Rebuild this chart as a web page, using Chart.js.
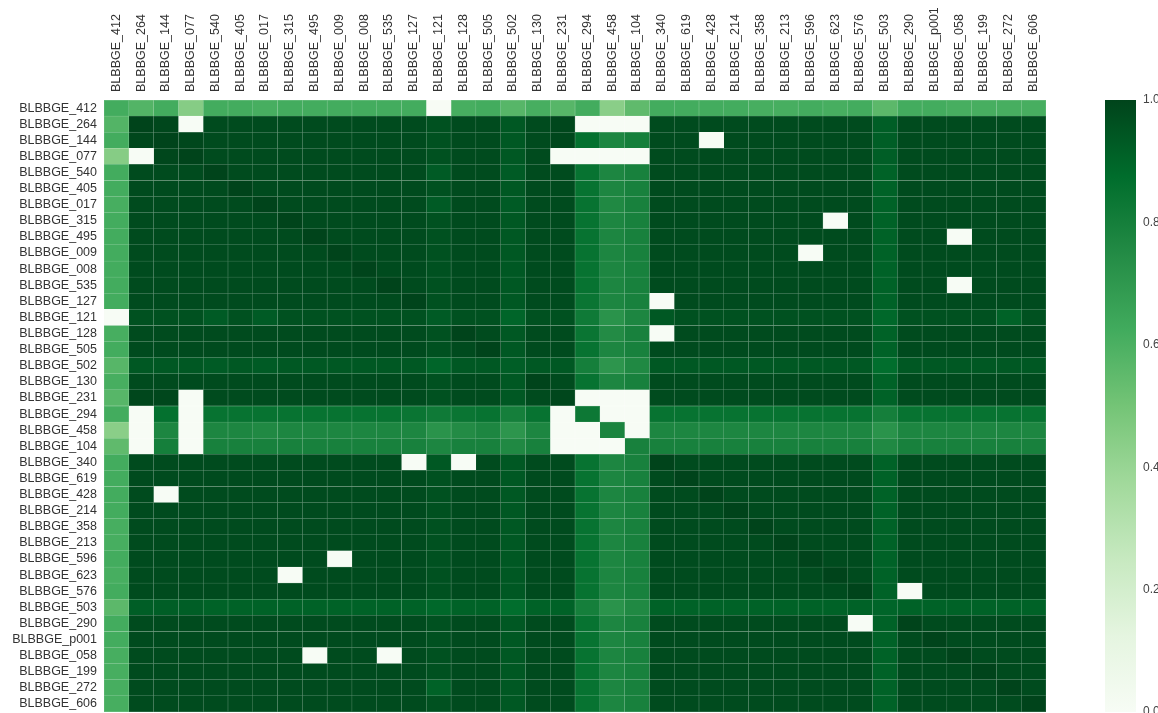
<!DOCTYPE html>
<html>
<head>
<meta charset="utf-8">
<script src="https://cdn.jsdelivr.net/npm/chart.js@4.4.1/dist/chart.umd.min.js"></script>
<style>
  html, body { margin: 0; padding: 0; background: #ffffff; }
  #wrap { width: 1158px; height: 713px; }
</style>
</head>
<body>
<div id="wrap"><canvas id="heat" width="1158" height="713"></canvas></div>
<script>
// Sample identifiers (rows top to bottom, columns left to right)
const samples = [
  'BLBBGE_412','BLBBGE_264','BLBBGE_144','BLBBGE_077','BLBBGE_540','BLBBGE_405','BLBBGE_017',
  'BLBBGE_315','BLBBGE_495','BLBBGE_009','BLBBGE_008','BLBBGE_535','BLBBGE_127','BLBBGE_121',
  'BLBBGE_128','BLBBGE_505','BLBBGE_502','BLBBGE_130','BLBBGE_231','BLBBGE_294','BLBBGE_458',
  'BLBBGE_104','BLBBGE_340','BLBBGE_619','BLBBGE_428','BLBBGE_214','BLBBGE_358','BLBBGE_213',
  'BLBBGE_596','BLBBGE_623','BLBBGE_576','BLBBGE_503','BLBBGE_290','BLBBGE_p001','BLBBGE_058',
  'BLBBGE_199','BLBBGE_272','BLBBGE_606'
];

// Pairwise similarity, one row per sample
const r412 = [0.62,0.58,0.62,0.45,0.62,0.62,0.61,0.62,0.62,0.62, 0.62,0.62,0.62,0.00,0.61,0.62,0.57,0.61,0.57,0.62, 0.44,0.55,0.62,0.62,0.62,0.62,0.61,0.61,0.62,0.61, 0.62,0.56,0.62,0.62,0.61,0.61,0.61,0.61];
const r264 = [0.58,1.00,0.99,0.00,0.98,0.98,0.98,0.98,0.98,0.98, 0.98,0.98,0.98,0.96,0.98,0.98,0.94,0.98,0.99,0.00, 0.00,0.00,0.98,0.98,0.98,0.98,0.98,0.98,0.98,0.98, 0.98,0.92,0.98,0.98,0.98,0.98,0.98,0.98];
const r144 = [0.62,0.99,1.00,0.99,0.98,0.98,0.98,0.98,0.98,0.98, 0.98,0.98,0.98,0.96,0.98,0.98,0.94,0.98,0.99,0.86, 0.77,0.80,0.98,0.98,0.00,0.98,0.98,0.98,0.98,0.98, 0.98,0.92,0.98,0.98,0.98,0.98,0.98,0.98];
const r077 = [0.45,0.00,0.99,1.00,0.98,0.98,0.98,0.98,0.98,0.98, 0.98,0.98,0.98,0.96,0.98,0.98,0.94,0.98,0.00,0.00, 0.00,0.00,0.98,0.98,0.98,0.98,0.98,0.98,0.98,0.98, 0.98,0.92,0.98,0.98,0.98,0.98,0.98,0.98];
const r540 = [0.62,0.98,0.98,0.98,1.00,0.98,0.98,0.98,0.98,0.98, 0.98,0.98,0.98,0.93,0.98,0.98,0.93,0.98,0.98,0.85, 0.77,0.79,0.98,0.98,0.98,0.98,0.98,0.98,0.98,0.98, 0.98,0.91,0.98,0.98,0.98,0.98,0.98,0.98];
const r405 = [0.62,0.98,0.98,0.98,0.98,1.00,0.98,0.98,0.98,0.98, 0.98,0.98,0.98,0.96,0.98,0.98,0.94,0.98,0.98,0.85, 0.77,0.79,0.98,0.98,0.98,0.98,0.98,0.98,0.98,0.98, 0.98,0.91,0.98,0.98,0.98,0.98,0.98,0.98];
const r017 = [0.61,0.98,0.98,0.98,0.98,0.98,1.00,0.98,0.98,0.98, 0.98,0.98,0.98,0.93,0.98,0.98,0.93,0.98,0.98,0.85, 0.76,0.79,0.98,0.98,0.98,0.98,0.98,0.98,0.98,0.98, 0.98,0.91,0.98,0.98,0.98,0.98,0.98,0.98];
const r315 = [0.62,0.98,0.98,0.98,0.98,0.98,0.98,1.00,0.98,0.98, 0.98,0.98,0.98,0.96,0.98,0.98,0.94,0.98,0.98,0.85, 0.77,0.79,0.98,0.98,0.98,0.98,0.98,0.98,0.98,0.00, 0.98,0.91,0.98,0.98,0.98,0.98,0.98,0.98];
const r495 = [0.62,0.98,0.98,0.98,0.98,0.98,0.98,0.98,1.00,0.98, 0.98,0.98,0.98,0.96,0.98,0.98,0.94,0.98,0.98,0.85, 0.77,0.79,0.98,0.98,0.98,0.98,0.98,0.98,0.98,0.98, 0.98,0.91,0.98,0.98,0.00,0.98,0.98,0.98];
const r009 = [0.62,0.98,0.98,0.98,0.98,0.98,0.98,0.98,0.98,1.00, 0.98,0.98,0.98,0.96,0.98,0.98,0.94,0.98,0.98,0.85, 0.77,0.79,0.98,0.98,0.98,0.98,0.98,0.98,0.00,0.98, 0.98,0.91,0.98,0.98,0.98,0.98,0.98,0.98];
const r008 = [0.62,0.98,0.98,0.98,0.98,0.98,0.98,0.98,0.98,0.98, 1.00,0.98,0.98,0.96,0.98,0.98,0.94,0.98,0.98,0.85, 0.77,0.79,0.98,0.98,0.98,0.98,0.98,0.98,0.98,0.98, 0.98,0.91,0.98,0.98,0.98,0.98,0.98,0.98];
const r535 = [0.62,0.98,0.98,0.98,0.98,0.98,0.98,0.98,0.98,0.98, 0.98,1.00,0.98,0.96,0.98,0.98,0.94,0.98,0.98,0.85, 0.77,0.79,0.98,0.98,0.98,0.98,0.98,0.98,0.98,0.98, 0.98,0.91,0.98,0.98,0.00,0.98,0.98,0.98];
const r127 = [0.62,0.98,0.98,0.98,0.98,0.98,0.98,0.98,0.98,0.98, 0.98,0.98,1.00,0.96,0.98,0.98,0.94,0.98,0.98,0.84, 0.77,0.79,0.00,0.98,0.98,0.98,0.98,0.98,0.98,0.98, 0.98,0.91,0.98,0.98,0.98,0.98,0.98,0.98];
const r121 = [0.00,0.96,0.96,0.96,0.93,0.96,0.93,0.96,0.96,0.96, 0.96,0.96,0.96,0.93,0.96,0.96,0.90,0.96,0.96,0.82, 0.72,0.77,0.94,0.96,0.96,0.96,0.96,0.96,0.96,0.96, 0.96,0.89,0.96,0.96,0.96,0.96,0.91,0.96];
const r128 = [0.61,0.98,0.98,0.98,0.98,0.98,0.98,0.98,0.98,0.98, 0.98,0.98,0.98,0.96,1.00,0.98,0.94,0.98,0.98,0.84, 0.75,0.79,0.00,0.98,0.98,0.98,0.98,0.98,0.98,0.98, 0.98,0.91,0.98,0.98,0.98,0.98,0.98,0.98];
const r505 = [0.62,0.98,0.98,0.98,0.98,0.98,0.98,0.98,0.98,0.98, 0.98,0.98,0.98,0.96,0.98,1.00,0.94,0.98,0.98,0.85, 0.77,0.79,0.98,0.98,0.98,0.98,0.98,0.98,0.98,0.98, 0.98,0.91,0.98,0.98,0.98,0.98,0.98,0.98];
const r502 = [0.57,0.94,0.94,0.94,0.93,0.94,0.93,0.94,0.94,0.94, 0.94,0.94,0.94,0.90,0.94,0.94,0.92,0.94,0.94,0.80, 0.71,0.76,0.94,0.94,0.94,0.94,0.94,0.94,0.94,0.94, 0.94,0.87,0.94,0.94,0.94,0.94,0.94,0.94];
const r130 = [0.61,0.98,0.98,0.98,0.98,0.98,0.98,0.98,0.98,0.98, 0.98,0.98,0.98,0.96,0.98,0.98,0.94,1.00,0.98,0.85, 0.77,0.79,0.98,0.98,0.98,0.98,0.98,0.98,0.98,0.98, 0.98,0.91,0.98,0.98,0.98,0.98,0.98,0.98];
const r231 = [0.57,0.99,0.99,0.00,0.98,0.98,0.98,0.98,0.98,0.98, 0.98,0.98,0.98,0.96,0.98,0.98,0.94,0.98,0.99,0.00, 0.00,0.00,0.98,0.98,0.98,0.98,0.98,0.98,0.98,0.98, 0.98,0.91,0.98,0.98,0.98,0.98,0.98,0.98];
const r294 = [0.62,0.00,0.86,0.00,0.85,0.85,0.85,0.85,0.85,0.85, 0.85,0.85,0.84,0.82,0.84,0.85,0.80,0.85,0.00,0.83, 0.00,0.00,0.85,0.85,0.85,0.85,0.85,0.85,0.85,0.85, 0.85,0.80,0.85,0.85,0.85,0.85,0.85,0.85];
const r458 = [0.44,0.00,0.77,0.00,0.77,0.77,0.76,0.77,0.77,0.77, 0.77,0.77,0.77,0.72,0.75,0.77,0.71,0.77,0.00,0.00, 0.78,0.00,0.77,0.77,0.77,0.77,0.77,0.77,0.77,0.77, 0.77,0.72,0.77,0.77,0.77,0.77,0.77,0.77];
const r104 = [0.55,0.00,0.80,0.00,0.79,0.79,0.79,0.79,0.79,0.79, 0.79,0.79,0.79,0.77,0.79,0.79,0.76,0.79,0.00,0.00, 0.00,0.79,0.79,0.79,0.79,0.79,0.79,0.79,0.79,0.79, 0.79,0.76,0.79,0.79,0.79,0.79,0.79,0.79];
const r340 = [0.62,0.98,0.98,0.98,0.98,0.98,0.98,0.98,0.98,0.98, 0.98,0.98,0.00,0.94,0.00,0.98,0.94,0.98,0.98,0.85, 0.77,0.79,1.00,0.98,0.98,0.98,0.98,0.98,0.98,0.98, 0.98,0.91,0.98,0.98,0.98,0.98,0.98,0.98];
const r619 = [0.62,0.98,0.98,0.98,0.98,0.98,0.98,0.98,0.98,0.98, 0.98,0.98,0.98,0.96,0.98,0.98,0.94,0.98,0.98,0.85, 0.77,0.79,0.98,1.00,0.98,0.98,0.98,0.98,0.98,0.98, 0.98,0.91,0.98,0.98,0.98,0.98,0.98,0.98];
const r428 = [0.62,0.98,0.00,0.98,0.98,0.98,0.98,0.98,0.98,0.98, 0.98,0.98,0.98,0.96,0.98,0.98,0.94,0.98,0.98,0.85, 0.77,0.79,0.98,0.98,1.00,0.98,0.98,0.98,0.98,0.98, 0.98,0.91,0.98,0.98,0.98,0.98,0.98,0.98];
const r214 = [0.62,0.98,0.98,0.98,0.98,0.98,0.98,0.98,0.98,0.98, 0.98,0.98,0.98,0.96,0.98,0.98,0.94,0.98,0.98,0.85, 0.77,0.79,0.98,0.98,0.98,1.00,0.98,0.98,0.98,0.98, 0.98,0.91,0.98,0.98,0.98,0.98,0.98,0.98];
const r358 = [0.61,0.98,0.98,0.98,0.98,0.98,0.98,0.98,0.98,0.98, 0.98,0.98,0.98,0.96,0.98,0.98,0.94,0.98,0.98,0.85, 0.77,0.79,0.98,0.98,0.98,0.98,1.00,0.98,0.98,0.98, 0.98,0.91,0.98,0.98,0.98,0.98,0.98,0.98];
const r213 = [0.61,0.98,0.98,0.98,0.98,0.98,0.98,0.98,0.98,0.98, 0.98,0.98,0.98,0.96,0.98,0.98,0.94,0.98,0.98,0.85, 0.77,0.79,0.98,0.98,0.98,0.98,0.98,1.00,0.98,0.98, 0.98,0.91,0.98,0.98,0.98,0.98,0.98,0.98];
const r596 = [0.62,0.98,0.98,0.98,0.98,0.98,0.98,0.98,0.98,0.00, 0.98,0.98,0.98,0.96,0.98,0.98,0.94,0.98,0.98,0.85, 0.77,0.79,0.98,0.98,0.98,0.98,0.98,0.98,1.00,0.98, 0.98,0.91,0.98,0.98,0.98,0.98,0.98,0.98];
const r623 = [0.61,0.98,0.98,0.98,0.98,0.98,0.98,0.00,0.98,0.98, 0.98,0.98,0.98,0.96,0.98,0.98,0.94,0.98,0.98,0.85, 0.77,0.79,0.98,0.98,0.98,0.98,0.98,0.98,0.98,1.00, 0.98,0.91,0.98,0.98,0.98,0.98,0.98,0.98];
const r576 = [0.62,0.98,0.98,0.98,0.98,0.98,0.98,0.98,0.98,0.98, 0.98,0.98,0.98,0.96,0.98,0.98,0.94,0.98,0.98,0.85, 0.77,0.79,0.98,0.98,0.98,0.98,0.98,0.98,0.98,0.98, 1.00,0.91,0.00,0.98,0.98,0.98,0.98,0.98];
const r503 = [0.56,0.92,0.92,0.92,0.91,0.91,0.91,0.91,0.91,0.91, 0.91,0.91,0.91,0.89,0.91,0.91,0.87,0.91,0.91,0.80, 0.72,0.76,0.91,0.91,0.91,0.91,0.91,0.91,0.91,0.91, 0.91,0.90,0.91,0.91,0.91,0.91,0.91,0.91];
const r290 = [0.62,0.98,0.98,0.98,0.98,0.98,0.98,0.98,0.98,0.98, 0.98,0.98,0.98,0.96,0.98,0.98,0.94,0.98,0.98,0.85, 0.77,0.79,0.98,0.98,0.98,0.98,0.98,0.98,0.98,0.98, 0.00,0.91,1.00,0.98,0.98,0.98,0.98,0.98];
const rp001 = [0.62,0.98,0.98,0.98,0.98,0.98,0.98,0.98,0.98,0.98, 0.98,0.98,0.98,0.96,0.98,0.98,0.94,0.98,0.98,0.85, 0.77,0.79,0.98,0.98,0.98,0.98,0.98,0.98,0.98,0.98, 0.98,0.91,0.98,1.00,0.98,0.98,0.98,0.98];
const r058 = [0.61,0.98,0.98,0.98,0.98,0.98,0.98,0.98,0.00,0.98, 0.98,0.00,0.98,0.96,0.98,0.98,0.94,0.98,0.98,0.85, 0.77,0.79,0.98,0.98,0.98,0.98,0.98,0.98,0.98,0.98, 0.98,0.91,0.98,0.98,1.00,0.98,0.98,0.98];
const r199 = [0.61,0.98,0.98,0.98,0.98,0.98,0.98,0.98,0.98,0.98, 0.98,0.98,0.98,0.96,0.98,0.98,0.94,0.98,0.98,0.85, 0.77,0.79,0.98,0.98,0.98,0.98,0.98,0.98,0.98,0.98, 0.98,0.91,0.98,0.98,0.98,1.00,0.98,0.98];
const r272 = [0.61,0.98,0.98,0.98,0.98,0.98,0.98,0.98,0.98,0.98, 0.98,0.98,0.98,0.91,0.98,0.98,0.94,0.98,0.98,0.85, 0.77,0.79,0.98,0.98,0.98,0.98,0.98,0.98,0.98,0.98, 0.98,0.91,0.98,0.98,0.98,0.98,1.00,0.98];
const r606 = [0.61,0.98,0.98,0.98,0.98,0.98,0.98,0.98,0.98,0.98, 0.98,0.98,0.98,0.96,0.98,0.98,0.94,0.98,0.98,0.85, 0.77,0.79,0.98,0.98,0.98,0.98,0.98,0.98,0.98,0.98, 0.98,0.91,0.98,0.98,0.98,0.98,0.98,1.00];

const matrix = [r412, r264, r144, r077, r540, r405, r017, r315, r495, r009, r008, r535, r127,
  r121, r128, r505, r502, r130, r231, r294, r458, r104, r340, r619, r428, r214, r358, r213,
  r596, r623, r576, r503, r290, rp001, r058, r199, r272, r606];

// Colour-bar range and tick labels
const scaleMin = 0.0;
const scaleMax = 1.0;
const colorBarTicks = [0.0, 0.2, 0.4, 0.6, 0.8, 1.0];

// Sequential green palette (light -> dark)
const greenStops = ['#f7fcf5','#e5f5e0','#c7e9c0','#a1d99b','#74c476','#41ab5d','#238b45','#006d2c','#00441b'];

function hexToRgb(h) {
  return [parseInt(h.slice(1, 3), 16), parseInt(h.slice(3, 5), 16), parseInt(h.slice(5, 7), 16)];
}
const stopRgb = greenStops.map(hexToRgb);

function greenRgb(v) {
  const t = Math.max(0, Math.min(1, (v - scaleMin) / (scaleMax - scaleMin)));
  const pos = t * (stopRgb.length - 1);
  const i = Math.min(stopRgb.length - 2, Math.floor(pos));
  const f = pos - i;
  const a = stopRgb[i], b = stopRgb[i + 1];
  return [0, 1, 2].map(k => Math.round(a[k] + (b[k] - a[k]) * f));
}
function rgbStr(c) { return 'rgb(' + c[0] + ',' + c[1] + ',' + c[2] + ')'; }
function lighten(c, w) { return c.map(x => Math.round(x + (255 - x) * w)); }

// One stacked dataset per column; every bar segment is a unit-wide cell
const datasets = samples.map((col, j) => ({
  label: col,
  data: samples.map(() => 1),
  backgroundColor: samples.map((_, i) => rgbStr(greenRgb(matrix[i][j]))),
  borderColor: samples.map((_, i) => rgbStr(lighten(greenRgb(matrix[i][j]), 0.4))),
  borderWidth: 0.5,
  borderSkipped: false,
  barPercentage: 1,
  categoryPercentage: 1,
  stack: 'cells'
}));

const fontFamily = '"Liberation Sans", Arial, sans-serif';
// a very small line height keeps single-line labels centred on their ticks
const labelFont = { family: fontFamily, size: 12.5, lineHeight: 0.01 };

// Gradient legend bar and its labels, placed on the colour-bar scale
const colorBarPlugin = {
  id: 'colorBar',
  afterDraw(chart) {
    const s = chart.scales.cb;
    const ctx = chart.ctx;
    const yTop = s.getPixelForValue(scaleMax);
    const yBot = s.getPixelForValue(scaleMin);
    const x0 = s.left + 59;
    const w = 31;
    const g = ctx.createLinearGradient(0, yBot, 0, yTop);
    greenStops.forEach((c, k) => g.addColorStop(k / (greenStops.length - 1), c));
    ctx.save();
    ctx.fillStyle = g;
    ctx.fillRect(x0, yTop, w, yBot - yTop);
    ctx.fillStyle = '#444444';
    ctx.font = '12px ' + fontFamily;
    ctx.textAlign = 'left';
    ctx.textBaseline = 'middle';
    colorBarTicks.forEach(v => {
      ctx.fillText(v.toFixed(1), s.left + 97, s.getPixelForValue(v));
    });
    ctx.restore();
  }
};

new Chart(document.getElementById('heat'), {
  type: 'bar',
  data: { labels: samples, datasets },
  plugins: [colorBarPlugin],
  options: {
    indexAxis: 'y',
    responsive: false,
    animation: false,
    layout: { padding: { top: 0, left: 0, right: 0, bottom: 1 } },
    plugins: { legend: { display: false }, tooltip: { enabled: false } },
    scales: {
      x: {
        type: 'linear', stacked: true, min: 0, max: samples.length, display: false
      },
      y: {
        type: 'category', stacked: true, position: 'left',
        grid: { display: false, drawTicks: true, tickLength: 7 }, border: { display: false },
        ticks: { autoSkip: false, padding: 0, color: '#333333', font: labelFont },
        afterFit(s) { s.width = 104; }
      },
      xTop: {
        type: 'category', axis: 'x', labels: samples, position: 'top', offset: true,
        grid: { display: false, drawTicks: false }, border: { display: false },
        ticks: { autoSkip: false, minRotation: 90, maxRotation: 90, padding: 8, color: '#333333', font: labelFont },
        afterFit(s) { s.height = 100; }
      },
      cb: {
        type: 'linear', axis: 'y', position: 'right', min: scaleMin, max: scaleMax,
        offset: false,
        grid: { display: false, drawTicks: false, offset: false }, border: { display: false },
        ticks: { display: false },
        afterFit(s) { s.width = 112; }
      }
    }
  }
});
</script>
</body>
</html>
